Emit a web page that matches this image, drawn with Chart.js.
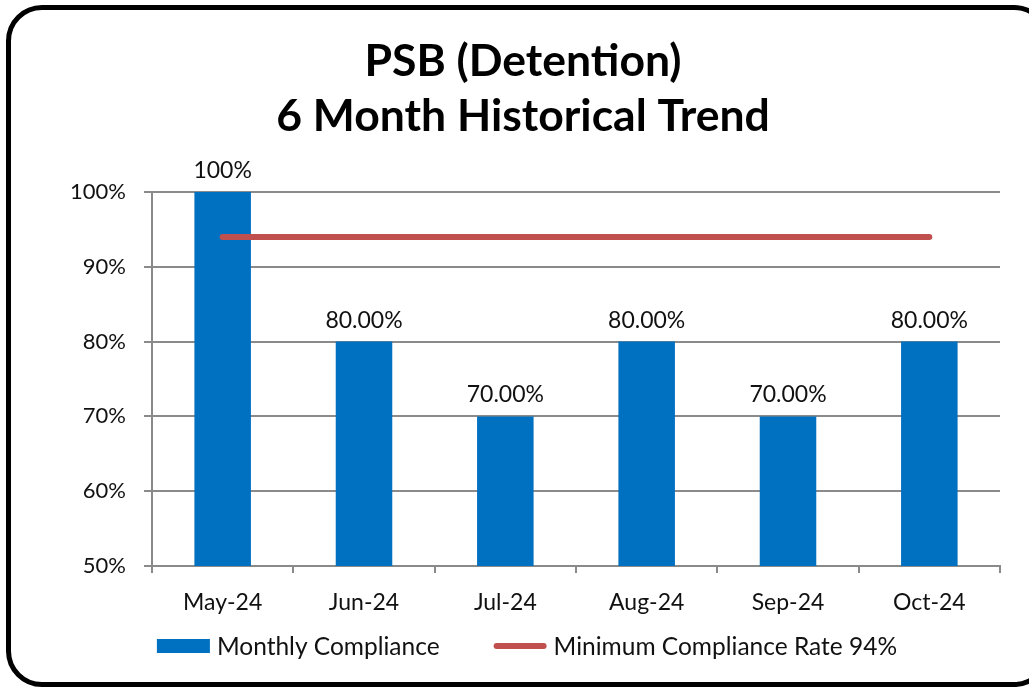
<!DOCTYPE html>
<html>
<head>
<meta charset="utf-8">
<script src="https://cdn.jsdelivr.net/npm/chart.js@4.4.1/dist/chart.umd.min.js"></script>
<style>
  html, body { margin: 0; padding: 0; background: #fff; overflow: hidden; }
  #frame {
    position: absolute; left: 6px; top: 5px; width: 1034px; height: 672px;
    border: 5px solid #000; border-radius: 36px;
  }
  #wrap { position: absolute; left: 0; top: 0; width: 1029px; height: 688px; }
</style>
</head>
<body>
<div id="frame"></div>
<div id="wrap"><canvas id="chart" width="1029" height="688"></canvas></div>
<script>
const months = ["May-24", "Jun-24", "Jul-24", "Aug-24", "Sep-24", "Oct-24"];
const compliance = [100, 80, 70, 80, 70, 80];
const complianceLabels = ["100%", "80.00%", "70.00%", "80.00%", "70.00%", "80.00%"];
const minimumRate = [94, 94, 94, 94, 94, 94];
const titleLines = ["PSB (Detention)", "6 Month Historical Trend"];

const FONT = "Lato, 'Open Sans', sans-serif";
const GRID = "#8a8a8a";
const TEXT = "#111";

// value labels above the bars
const barLabels = {
  id: "barLabels",
  afterDatasetsDraw(chart) {
    const meta = chart.getDatasetMeta(0);
    const ctx = chart.ctx;
    ctx.save();
    ctx.font = `23px ${FONT}`;
    ctx.fillStyle = TEXT;
    ctx.textAlign = "center";
    ctx.textBaseline = "alphabetic";
    meta.data.forEach((bar, i) => {
      ctx.fillText(complianceLabels[i], bar.x, bar.y - 14);
    });
    ctx.restore();
  },
};

// excel style legend: wide swatches, roomy gap between entries
const bottomLegend = {
  id: "bottomLegend",
  afterDraw(chart) {
    const ctx = chart.ctx;
    const sets = chart.data.datasets;
    const swatch = 53, gap = 7, between = 54;
    ctx.save();
    ctx.font = `24.5px ${FONT}`;
    const widths = sets.map((ds) => swatch + gap + ctx.measureText(ds.label).width);
    const total = widths.reduce((a, b) => a + b, 0) + between * (sets.length - 1);
    const block = chart.titleBlock;
    let x = (block.left + block.right) / 2 + 4 - total / 2;
    const y = chart.chartArea.bottom + 80;
    sets.forEach((ds, i) => {
      if (ds.type === "line") {
        ctx.strokeStyle = ds.borderColor;
        ctx.lineWidth = ds.borderWidth;
        ctx.lineCap = "round";
        ctx.beginPath();
        ctx.moveTo(x + 3, y);
        ctx.lineTo(x + swatch - 3, y);
        ctx.stroke();
      } else {
        ctx.fillStyle = ds.backgroundColor;
        ctx.fillRect(x, y - 7, swatch, 14);
      }
      ctx.fillStyle = TEXT;
      ctx.textAlign = "left";
      ctx.textBaseline = "middle";
      ctx.fillText(ds.label, x + swatch + gap, y + 1);
      x += widths[i] + between;
    });
    ctx.restore();
  },
};

new Chart(document.querySelector("#chart"), {
  data: {
    labels: months,
    datasets: [
      {
        type: "bar",
        label: "Monthly Compliance",
        data: compliance,
        backgroundColor: "#0070C0",
        categoryPercentage: 1,
        barPercentage: 0.4,
        order: 1,
      },
      {
        type: "line",
        label: "Minimum Compliance Rate 94%",
        data: minimumRate,
        borderColor: "#C0504D",
        backgroundColor: "#C0504D",
        borderWidth: 6,
        borderCapStyle: "round",
        pointRadius: 0,
        order: 0,
      },
    ],
  },
  options: {
    responsive: false,
    animation: false,
    devicePixelRatio: 1,
    layout: { padding: { left: 46, right: 29, top: 0, bottom: 72 } },
    plugins: {
      title: {
        display: true,
        text: titleLines,
        color: "#000",
        font: { family: FONT, size: 44.5, weight: "bold", lineHeight: 1.236 },
        padding: { top: 34.5, bottom: 47.5 },
      },
      legend: { display: false },
      tooltip: { enabled: false },
    },
    scales: {
      x: {
        afterFit(scale) { scale.height = 50; },
        grid: {
          offset: true,
          drawOnChartArea: false,
          drawTicks: true,
          tickLength: 7,
          color: GRID,
          lineWidth: 2,
        },
        border: { display: true, color: GRID, width: 2 },
        ticks: { color: TEXT, padding: 16, font: { family: FONT, size: 23 } },
      },
      y: {
        min: 50,
        max: 100,
        afterFit(scale) { scale.width = 106; },
        grid: { color: GRID, lineWidth: 2, tickLength: 8 },
        border: { display: true, color: GRID, width: 2 },
        ticks: {
          stepSize: 10,
          color: TEXT,
          padding: 18,
          font: { family: FONT, size: 22 },
          callback: (v) => v + "%",
        },
      },
    },
  },
  plugins: [barLabels, bottomLegend],
});
</script>
</body>
</html>
